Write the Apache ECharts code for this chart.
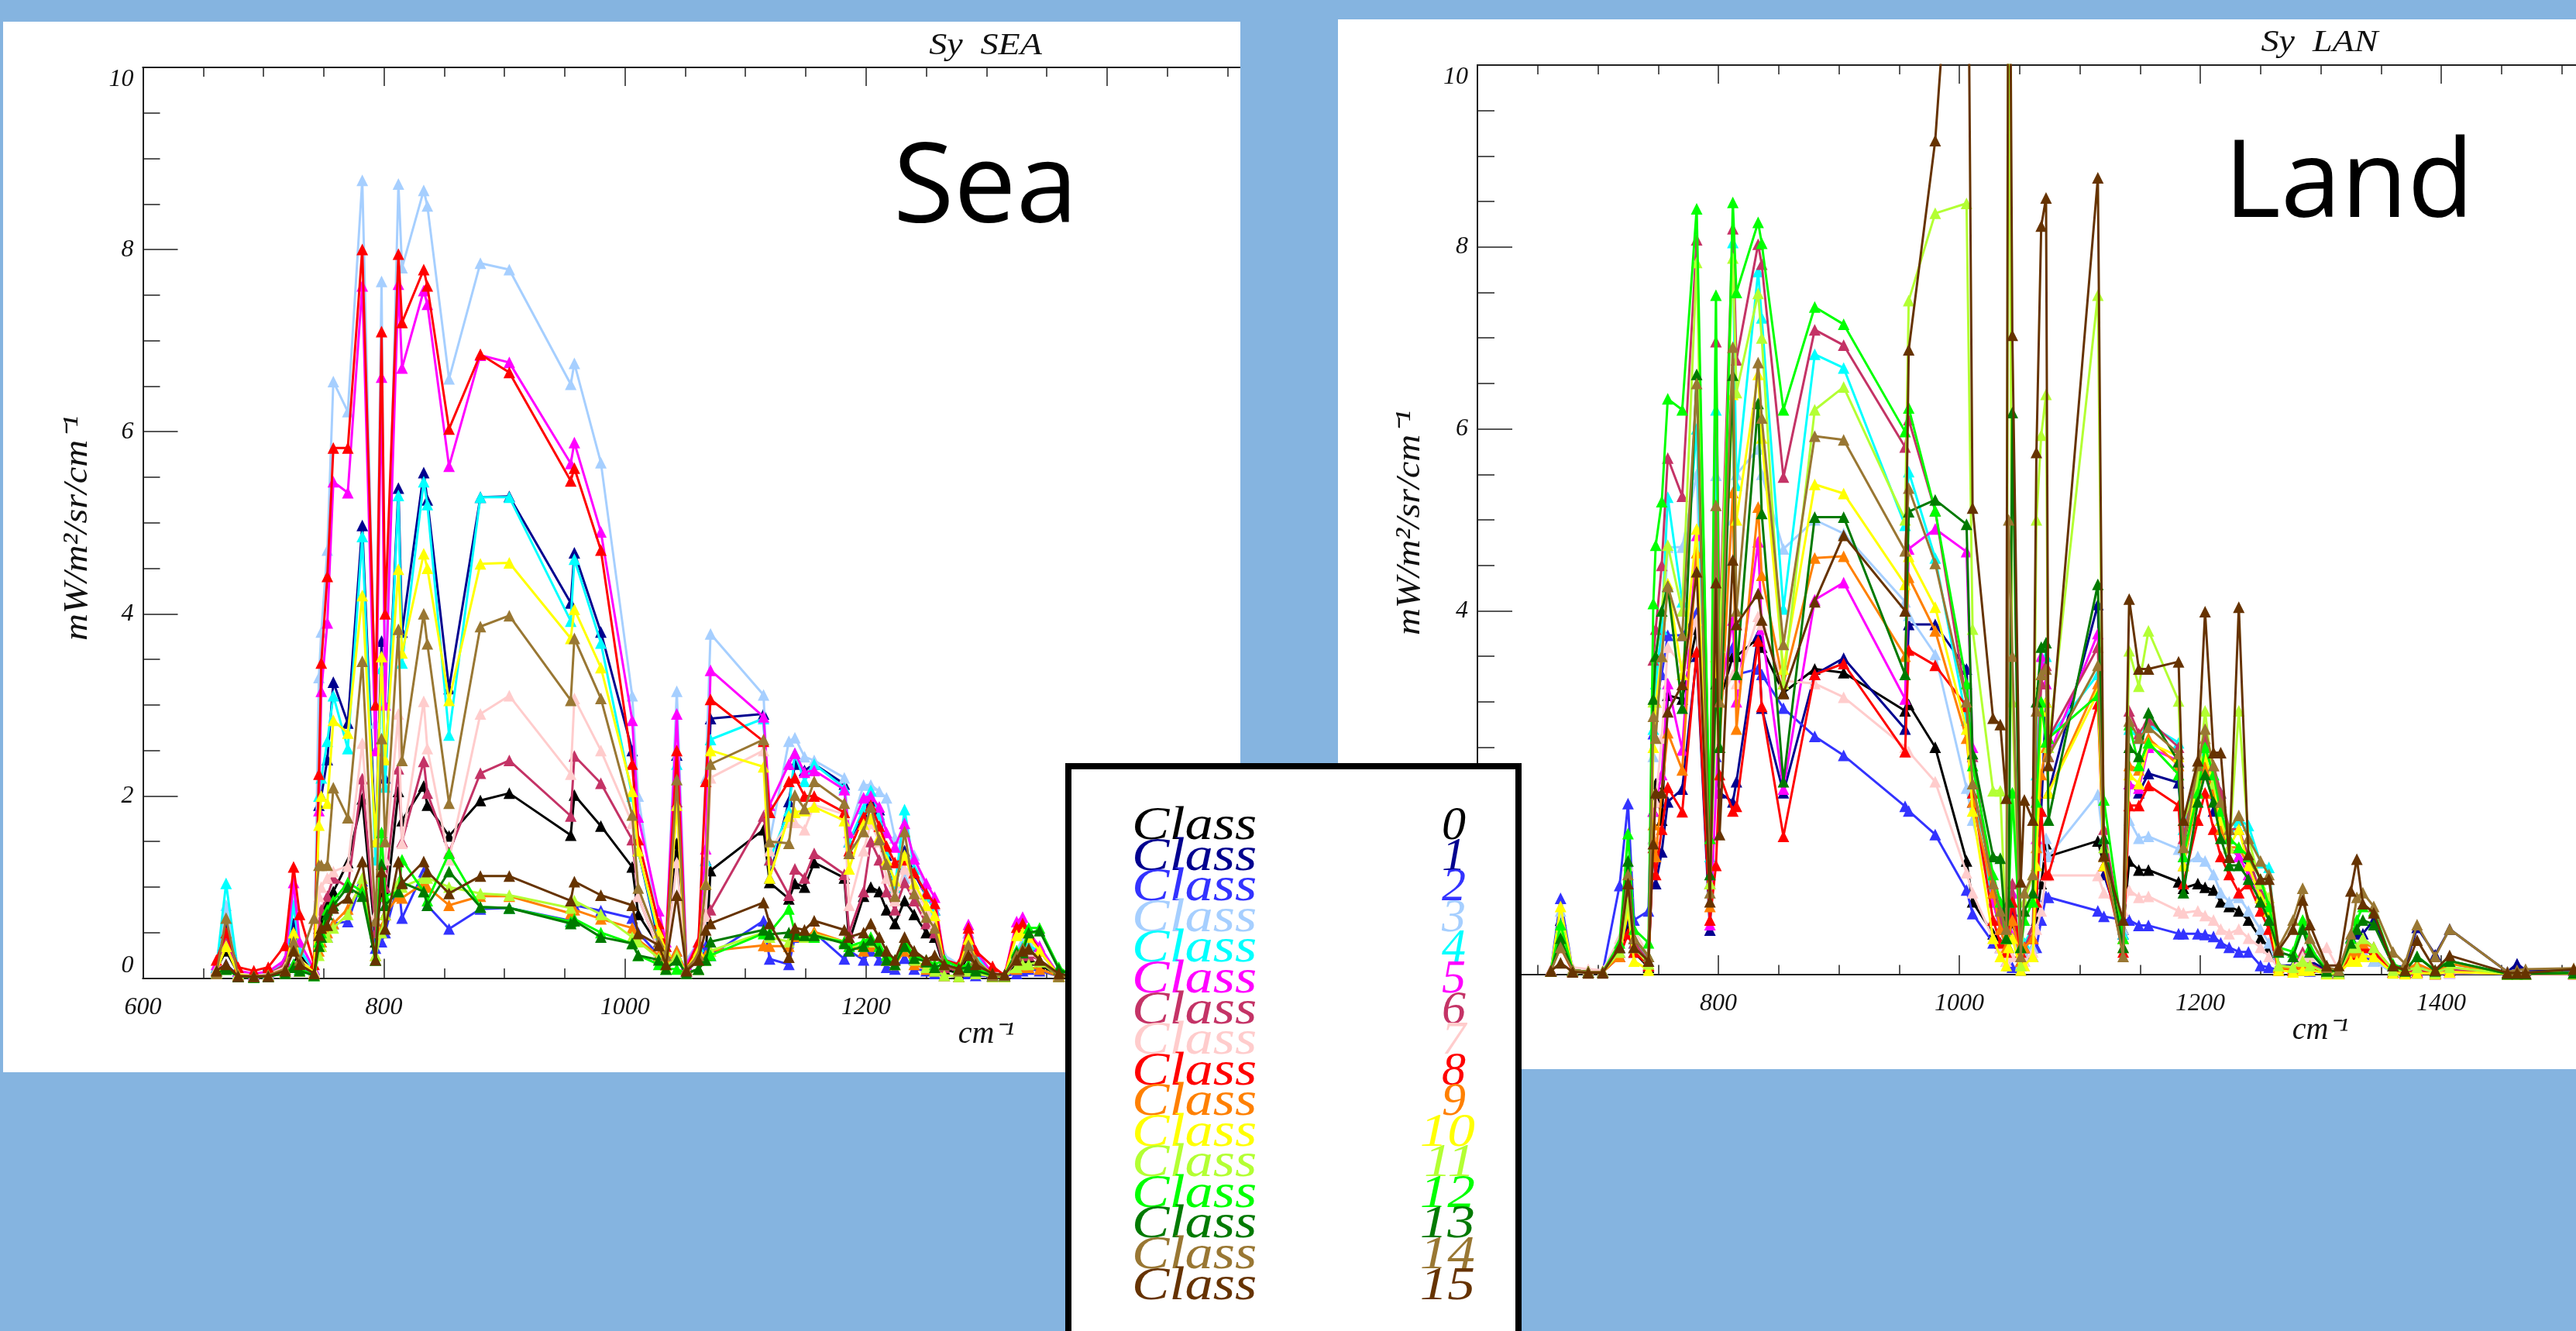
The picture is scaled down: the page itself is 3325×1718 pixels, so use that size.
<!DOCTYPE html>
<html><head><meta charset="utf-8">
<style>html,body{margin:0;padding:0;background:#85B4E0}#c{width:3325px;height:1718px}</style>
<script src="https://cdn.jsdelivr.net/npm/echarts@6/dist/echarts.min.js"></script>
</head><body><div id="c"></div>
<script>
const seaChannels=[661,669,679,692,704,718,725,730,742,746,
748,753,758,770,782,793,798,801,812,815,
833,836,854,880,904,955,958,980,1006,1011,
1028,1034,1043,1051,1061,1067,1071,1115,1120,1136,
1141,1149,1157,1182,1186,1198,1204,1211,1217,1224,
1232,1240,1250,1257,1265,1277,1285,1291,1305,1315,
1325,1330,1335,1344,1360,1370,1380,1395,1407,1455,
1463,1470,1510,1600];
const landChannels=[661,669,679,692,704,718,725,730,742,746,
748,753,758,770,782,793,798,801,812,815,
833,836,854,880,904,955,958,980,1006,1011,
1028,1034,1039,1041,1044,1051,1054,1061,1064,1068,1072,1074,1115,1120,1136,
1141,1149,1157,1182,1186,1198,1204,1211,1217,1224,
1232,1240,1250,1257,1265,1277,1285,1291,1305,1315,
1325,1330,1335,1344,1360,1370,1380,1395,1407,1455,
1463,1470,1510,1600];

const sea0=[.1,.3,.05,.03,.04,.1,.4,.25,.05,.55,
.65,.8,.95,1.27,1.97,.4,1.0,.7,2.05,1.73,
2.11,1.9,1.56,1.95,2.03,1.57,2.01,1.67,1.22,.7,
.35,.2,1.48,.08,.2,.25,1.18,1.63,1.05,.87,
1.04,1.0,1.27,1.1,.4,.9,1.0,.95,.75,.6,
.85,.7,.5,.45,.1,.05,.25,.12,.03,.03,
.15,.2,.2,.15,.03,.03,.03,.02,.02,.01,
.01,.01,.01,.01];
const sea1=[.12,.55,.08,.04,.05,.2,.6,.3,.1,1.9,
2.0,2.4,3.25,2.8,4.97,1.5,3.7,2.2,5.38,3.8,
5.55,5.25,3.18,5.28,5.29,4.12,4.67,3.8,2.5,1.4,
.4,.25,2.45,.1,.35,1.3,2.85,2.9,1.1,1.94,
2.35,2.28,2.35,2.13,1.5,1.8,1.95,1.85,1.35,1.0,
1.4,1.15,.9,.75,.2,.1,.5,.25,.05,.03,
.3,.35,.3,.3,.04,.03,.03,.02,.02,.01,
.01,.01,.01,.01];
const sea2=[.08,.15,.03,.02,.03,.08,.15,.1,.05,.35,
.4,.45,.6,.62,1.07,.33,.4,.5,1.05,.66,
1.17,.8,.54,.76,.77,.63,.8,.74,.66,.5,
.25,.15,.3,.05,.1,.35,.25,.63,.21,.15,
.45,.45,.5,.21,.3,.2,.3,.2,.12,.1,
.22,.1,.08,.05,.03,.02,.05,.03,.02,.02,
.05,.08,.1,.08,.02,.02,.02,.01,.01,.01,
.01,.01,.01,.01];
const sea3=[.1,.8,.06,.03,.05,.2,.85,.3,.1,3.3,
3.8,4.7,6.55,6.22,8.76,2.8,7.65,3,8.72,7.8,
8.65,8.48,6.58,7.85,7.78,6.52,6.75,5.66,3.1,2.0,
.5,.35,3.15,.2,.4,2.2,3.78,3.11,1.5,2.6,
2.64,2.43,2.39,2.2,1.6,2.12,2.12,2.05,1.98,1.54,
1.1,1.35,.95,.8,.25,.15,.5,.3,.05,.03,
.3,.4,.4,.35,.04,.03,.03,.02,.02,.01,
.01,.01,.01,.01];
const sea4=[.12,1.04,.06,.03,.05,.15,.8,.3,.1,2.0,
2.2,2.6,3.1,2.52,4.85,1.3,3.4,2.1,5.3,3.46,
5.45,5.2,2.67,5.28,5.28,3.92,4.6,3.68,2.0,1.4,
.45,.3,2.35,.15,.35,1.29,2.62,2.85,1.3,1.84,
2.47,2.16,2.35,2.09,1.5,1.86,2.06,1.8,1.4,1.0,
1.85,1.2,.9,.75,.2,.1,.45,.25,.05,.03,
.3,.35,.35,.3,.03,.03,.02,.02,.01,.01,
.01,.01,.01,.01];
const sea5=[.15,.45,.08,.05,.07,.2,1.05,.4,.1,1.84,
3.15,3.9,5.45,5.33,7.6,2.5,6.6,3,7.62,6.7,
7.55,7.4,5.62,6.84,6.76,5.65,5.88,4.9,2.83,1.77,
.74,.4,2.9,.15,.4,1.42,3.38,2.87,1.9,2.35,
2.47,2.26,2.28,2.07,1.6,1.98,2.0,1.88,1.6,1.44,
1.7,1.31,1.04,.89,.2,.15,.59,.3,.05,.03,
.62,.67,.5,.35,.03,.03,.02,.02,.01,.01,
.01,.01,.01,.01];
const sea6=[.1,.4,.04,.02,.04,.15,.5,.2,.08,.6,
.75,.9,1.1,1.0,2.19,.5,1.2,1.0,2.3,1.5,
2.38,2.03,1.38,2.25,2.39,1.78,2.44,2.14,1.52,.9,
.3,.2,1.94,.08,.2,.72,.75,1.78,1.3,.91,
1.2,1.1,1.37,1.14,.5,.95,1.5,1.3,.95,.75,
1.05,.85,.6,.5,.12,.08,.3,.15,.03,.03,
.2,.25,.25,.2,.03,.02,.02,.01,.01,.01,
.01,.01,.01,.01];
const sea7=[.1,.35,.05,.03,.04,.12,.4,.2,.08,.9,
1.0,1.1,1.17,1.23,2.58,.7,1.2,1.3,2.9,1.48,
3.04,2.52,1.3,2.9,3.1,2.24,3.07,2.5,1.7,.9,
.3,.2,1.27,.1,.25,.68,2.2,2.5,1.4,1.71,
1.71,1.63,1.9,1.8,.8,1.4,1.7,1.5,1.1,.85,
1.2,1.0,.75,.6,.15,.1,.35,.2,.04,.03,
.2,.3,.3,.2,.03,.02,.02,.01,.01,.01,
.01,.01,.01,.01];
const sea8=[.2,.5,.12,.08,.12,.36,1.22,.7,.15,2.24,
3.46,4.41,5.82,5.82,8.0,3.0,7.1,4,7.95,7.2,
7.78,7.6,6.03,6.85,6.65,5.46,5.6,4.7,2.35,1.52,
.6,.35,2.5,.1,.4,2.16,3.06,2.6,1.82,2.16,
2.2,2.0,2.0,1.82,1.4,1.77,1.9,1.67,1.45,1.27,
1.3,1.16,.93,.82,.2,.15,.55,.3,.13,.03,
.56,.6,.5,.3,.03,.03,.02,.02,.01,.01,
.01,.01,.01,.01];
const sea9=[.06,.12,.03,.02,.03,.07,.12,.08,.04,.3,
.4,.5,.6,.76,1.04,.25,.55,.7,.9,.88,
1.04,1.0,.8,.9,.9,.71,.75,.65,.55,.42,
.25,.15,.3,.05,.1,.25,.3,.36,.35,.35,
.46,.45,.51,.4,.35,.3,.35,.3,.2,.15,
.3,.15,.1,.08,.03,.02,.08,.05,.02,.02,
.1,.12,.12,.1,.02,.02,.02,.01,.01,.01,
.01,.01,.01,.01];
const sea10=[.08,.35,.04,.02,.03,.1,.5,.2,.06,1.68,
2.0,1.92,2.83,2.69,4.2,1.5,3.53,2.4,4.49,3.57,
4.66,4.5,3.05,4.55,4.56,3.73,4.05,3.41,2.05,1.4,
.5,.3,1.9,.1,.3,1.04,2.5,2.32,1.1,1.78,
1.82,1.84,1.88,1.73,1.2,1.69,1.75,1.55,1.3,1.07,
1.35,1.04,.8,.69,.15,.1,.43,.2,.04,.03,
.47,.5,.45,.3,.03,.02,.02,.01,.01,.01,
.01,.01,.01,.01];
const sea11=[.06,.1,.02,.02,.03,.06,.12,.08,.04,.25,
.35,.45,.55,.7,1.1,.25,.5,.7,1.05,1.0,
1.1,1.1,1.0,.93,.91,.77,.85,.7,.45,.4,
.22,.12,.25,.05,.1,.2,.3,.5,.45,.4,
.5,.45,.48,.4,.35,.35,.4,.3,.2,.15,
.35,.2,.12,.08,.03,.02,.08,.05,.02,.02,
.12,.15,.15,.18,.02,.02,.02,.01,.01,.01,
.01,.01,.01,.01];
const sea12=[.05,.1,.02,.01,.02,.05,.15,.1,.03,.4,
.5,.75,.85,1.05,.95,.2,1.6,.9,.95,1.3,
.95,.85,1.37,.78,.77,.62,.65,.5,.38,.25,
.15,.1,.1,.05,.1,.2,.25,.49,.5,.76,
.5,.48,.45,.4,.35,.4,.45,.35,.25,.2,
.4,.25,.2,.15,.2,.12,.15,.1,.04,.03,
.3,.3,.55,.55,.12,.03,.02,.02,.02,.01,
.01,.01,.01,.01];
const sea13=[.05,.1,.02,.01,.02,.05,.12,.08,.03,.35,
.45,.7,.8,1.0,.9,.2,1.25,.8,.95,1.05,
.95,.8,1.17,.78,.77,.6,.63,.45,.38,.25,
.2,.1,.2,.05,.1,.2,.4,.53,.48,.5,
.48,.47,.47,.38,.3,.35,.42,.3,.2,.15,
.35,.22,.18,.12,.15,.1,.12,.08,.03,.03,
.28,.28,.5,.52,.1,.03,.02,.02,.02,.01,
.01,.01,.01,.01];
const sea14=[.05,.66,.03,.02,.03,.1,.4,.2,.66,1.24,
1.24,1.24,2.09,1.76,3.48,.63,2.63,1.5,3.83,2.39,
4.0,3.67,1.92,3.86,3.98,3.05,3.73,3.07,1.79,.99,
.4,.25,2.18,.1,.25,1.03,2.35,2.62,1.5,1.48,
2.01,1.86,2.16,1.92,1.37,1.61,1.88,1.52,1.25,.9,
1.61,.93,.67,.55,.15,.08,.36,.2,.03,.03,
.25,.33,.33,.2,.02,.02,.02,.01,.01,.01,
.01,.01,.01,.01];
const sea15=[.08,.15,.02,.02,.02,.08,.3,.15,.05,.47,
.55,.58,.77,.88,1.28,.2,1.17,.54,1.28,1.04,
1.28,1.17,.93,1.12,1.12,.85,1.06,.91,.8,.49,
.36,.15,.91,.08,.2,.53,.6,.83,.6,.23,
.55,.53,.63,.53,.45,.5,.6,.45,.3,.2,
.45,.3,.2,.25,.15,.1,.25,.15,.05,.04,
.2,.3,.32,.2,.05,.02,.02,.02,.02,.01,
.01,.01,.01,.01];

const land0=[.05,.6,.05,.03,.03,.2,.5,.25,.08,1.8,
2.1,1.7,3.07,3.03,3.8,1.0,2.5,3.0,3.5,3.5,
3.7,3.6,3.1,3.36,3.32,2.9,2.97,2.5,1.25,.8,
.45,.35,.2,.3,.5,.1,.2,.3,.6,1.0,1.44,1.3,1.47,1.2,.5,
1.25,1.15,1.15,1.02,.95,1.0,.96,.93,.8,.75,
.7,.6,.4,.3,.05,.05,.1,.08,.02,.03,
.25,.25,.3,.2,.03,.03,.03,.02,.05,.01,
.01,.01,.02,.03];
const land1=[.05,.4,.05,.03,.03,.25,.6,.3,.1,1.5,
1.0,1.35,1.9,2.04,3.5,.49,2.2,2.0,1.9,2.12,
3.73,2.93,2.0,3.3,3.48,2.7,3.85,3.85,3.36,1.9,
.9,.75,.4,.5,.7,.12,.3,.4,1.2,1.8,3.0,2.0,4.07,1.1,.45,
2.1,2.0,2.21,2.11,1.4,2.0,2.4,1.8,1.7,1.4,
1.3,1.2,.9,.7,.1,.1,.2,.15,.05,.05,
.41,.45,.45,.6,.1,.08,.52,.22,.5,.03,
.12,.05,.05,.06];
const land2=[.05,.84,.05,.03,.03,.98,1.88,.6,.7,2.65,
3.0,3.3,3.73,3.73,3.98,1.0,2.4,3.3,3.6,3.3,
3.36,3.3,2.93,2.62,2.41,1.85,1.8,1.54,.93,.67,
.35,.3,.15,.1,.08,.05,.15,.2,.3,.6,.86,.85,.7,.64,.6,
.6,.54,.54,.45,.45,.45,.44,.42,.35,.3,
.25,.25,.1,.08,.05,.05,.05,.04,.02,.02,
.2,.2,.2,.15,.03,.02,.02,.01,.02,.01,
.01,.01,.01,.01];
const land3=[.05,.7,.05,.03,.03,.3,.9,.4,.15,2.4,
3.0,3.6,4.7,4.7,5.5,.9,5.49,3.5,5.0,5.5,
5.78,5.5,4.68,5.0,4.85,4.1,3.95,3.52,2.05,1.7,
.8,.5,.3,.4,.45,.12,.2,.3,.8,1.4,1.5,1.3,1.98,1.4,.5,
1.7,1.5,1.52,1.38,1.2,1.3,1.25,1.1,.9,.8,
.85,.7,.5,.35,.05,.05,.1,.08,.02,.02,
.2,.2,.25,.15,.02,.02,.02,.01,.03,.01,
.01,.01,.01,.01];
const land4=[.05,.5,.05,.03,.03,.3,.8,.35,.15,2.7,
3.2,3.8,5.25,4.1,6.0,1.3,6.21,3.5,8.05,5.38,
7.73,7.22,4.02,6.82,6.67,4.94,5.53,4.58,2.8,2.0,
.8,.5,.3,.6,.9,.15,.35,.5,2.2,3.3,3.5,2.6,3.3,1.5,.45,
2.7,2.6,2.75,2.55,1.6,2.3,2.5,2.2,2.0,1.5,
1.7,1.64,1.23,1.18,.1,.08,.15,.1,.03,.02,
.3,.3,.4,.3,.05,.05,.1,.02,.08,.01,
.01,.01,.02,.01];
const land5=[.05,.4,.05,.03,.03,.25,.7,.3,.1,1.8,
1.9,2.2,3.2,2.47,4.83,.55,2.0,3.0,3.9,3.0,
4.76,3.8,2.04,4.12,4.31,3.03,4.68,4.9,4.65,2.5,
.8,.5,.3,.5,.9,.15,.3,.4,1.5,3.5,3.2,2.4,3.75,1.2,.4,
2.1,2.05,2.5,2.35,1.3,2.0,2.3,2.0,1.6,1.4,
1.3,1.1,.8,.6,.08,.07,.12,.1,.03,.02,
.25,.25,.3,.25,.03,.03,.05,.02,.05,.01,
.01,.01,.01,.01];
const land6=[.05,.45,.05,.03,.03,.3,.9,.35,.15,3.46,
3.8,4.5,5.68,5.26,8.08,1.5,6.96,3.8,8.2,6.76,
8.03,7.81,5.47,7.09,6.92,5.8,6.1,5.1,3.0,2.4,
.9,.6,.4,.6,1.0,.15,.3,.5,2.0,3.2,3.4,2.6,3.6,1.6,.4,
2.9,2.65,2.8,2.5,1.5,2.3,2.6,2.3,2.0,1.6,
1.6,1.3,.9,.8,.1,.08,.25,.12,.03,.02,
.3,.3,.4,.3,.05,.04,.06,.02,.05,.01,
.01,.01,.02,.01];
const land7=[.05,.35,.08,.06,.05,.4,1.2,.5,.2,1.5,
1.9,2.6,3.6,3.4,3.9,1.0,2.6,3.0,3.3,3.2,
3.94,3.85,3.23,3.2,3.05,2.5,2.45,2.12,1.12,.9,
.4,.3,.15,.2,.2,.1,.15,.25,.5,.7,1.09,1.09,1.09,.9,.7,
.93,.85,.86,.7,.68,.7,.65,.6,.5,.45,
.5,.4,.3,.2,.08,.08,.2,.2,.3,.05,
.3,.3,.4,.2,.03,.02,.02,.01,.02,.01,
.01,.01,.01,.01];
const land8=[.05,.3,.04,.03,.03,.2,.45,.25,.1,1.4,
1.1,1.6,2.06,1.79,3.55,.6,1.2,2.2,1.8,1.85,
3.67,2.95,1.52,3.3,3.42,2.45,3.57,3.4,2.95,2.0,
.6,.35,.25,.4,.8,.25,.3,.4,.8,1.8,1.1,1.1,2.98,1.2,.25,
1.86,1.86,2.08,1.86,1.0,1.7,2.0,1.6,1.3,1.1,
.9,1.0,.7,.5,.05,.05,.1,.08,.02,.02,
.2,.2,.3,.25,.03,.02,.03,.01,.03,.01,
.01,.01,.01,.01];
const land9=[.04,.45,.04,.03,.03,.2,.7,.3,.12,1.65,
1.3,2.0,2.66,2.25,4.64,.75,3.5,2.5,5.3,2.7,
5.14,4.39,3.2,4.58,4.6,3.5,4.37,3.78,2.6,1.9,
.9,.5,.3,.4,.6,.15,.3,.4,1.4,2.2,2.5,2.0,3.2,1.3,.3,
2.3,2.25,2.6,2.3,1.2,2.0,2.3,2.0,1.6,1.4,
1.4,1.2,.85,.7,.08,.06,.12,.1,.02,.02,
.25,.25,.35,.3,.05,.05,.12,.03,.12,.01,
.01,.01,.02,.02];
const land10=[.04,.75,.05,.03,.03,.25,.7,.15,.05,2.5,
3.0,3.5,4.3,3.3,4.9,1.0,3.5,3.0,6.38,5.0,
6.6,5.9,3.36,5.39,5.29,4.29,4.6,4.04,2.7,1.8,
.4,.2,.1,.3,.4,.05,.1,.2,1.2,2.9,3.0,2.0,3.1,1.2,.4,
2.2,2.1,2.55,2.4,1.2,2.2,2.4,2.1,1.7,1.4,
1.6,1.2,.85,.7,.05,.03,.05,.05,.01,.01,
.15,.15,.2,.2,.02,.01,.02,.01,.03,.01,
.01,.01,.01,.01];
const land11=[.04,.5,.05,.03,.03,.25,.8,.3,.12,3.0,
3.5,4.0,4.72,4.0,7.83,1.0,3.0,3.6,7.88,6.4,
7.49,7.0,3.2,6.21,6.46,5.0,7.41,8.37,8.48,3.8,
2.02,2.02,.4,12,3.0,.1,.8,1.1,5.0,5.93,6.38,2.5,7.47,1.4,.4,
3.56,3.17,3.78,3.01,1.7,2.1,2.9,2.1,1.8,1.4,
2.9,1.5,1.0,.85,.1,.08,.15,.1,.02,.02,
.3,.3,.4,.3,.05,.04,.08,.02,.08,.01,
.01,.01,.02,.02];
const land12=[.04,.55,.05,.03,.03,.35,1.55,.5,.35,4.08,
4.72,5.2,6.33,6.21,8.42,1.5,7.47,2.5,8.49,7.5,
8.27,8.04,6.21,7.34,7.15,5.97,6.23,5.1,3.2,2.3,
1.1,.8,.4,.8,2.0,.3,.6,.8,1.9,3.0,2.56,2.6,3.07,1.92,.4,
2.75,2.3,2.55,2.2,1.3,2.0,2.5,2.2,1.8,1.5,
1.4,1.3,1.05,.75,.3,.25,.6,.3,.05,.05,
.4,.6,.75,.7,.12,.05,.2,.05,.15,.01,
.01,.01,.02,.03];
const land13=[.04,.4,.05,.03,.03,.3,1.25,.4,.2,3.03,
3.5,4.0,4.27,2.93,6.6,1.1,3.2,2.5,6.59,3.3,
6.28,5.07,2.12,5.03,5.03,3.3,5.09,5.22,4.95,2.43,
1.3,1.28,.4,.8,6.18,.3,.7,.9,3.0,3.6,3.65,1.7,4.29,1.5,.3,
2.5,2.4,2.88,2.34,.9,1.9,2.2,1.9,1.5,1.2,
1.2,1.05,.8,.6,.25,.2,.5,.25,.04,.04,
.35,.5,.6,.55,.1,.04,.2,.04,.15,.01,
.01,.01,.02,.03];
const land14=[.04,.3,.05,.03,.03,.3,1.1,.4,.2,2.84,
2.6,3.5,4.27,3.73,6.5,.9,5.16,3.0,6.9,4.0,
6.73,6.12,3.63,5.92,5.88,4.66,5.35,4.52,3.0,2.1,
1.0,.7,.5,5,3.5,.2,.9,1.1,2.9,3.3,3.36,2.4,3.4,1.3,.2,
2.79,2.6,2.72,2.43,1.4,2.3,2.7,2.3,1.9,1.6,
1.75,1.5,1.25,1.1,.3,.6,.95,.4,.08,.05,
.45,.85,.9,.75,.25,.12,.55,.2,.5,.03,
.05,.06,.07,.08];
const land15=[.04,.13,.03,.02,.02,.3,1.0,.3,.15,1.44,
2.0,2.0,2.89,3.19,4.43,.8,4.31,1.54,4.56,3.85,
4.19,3.9,3.09,4.1,4.83,4.0,6.87,9.17,14,5.13,
2.82,2.75,1.94,14,7.03,1.02,1.92,1.7,5.74,8.23,8.54,2.3,8.76,1.31,.6,
4.13,3.36,3.36,3.44,1.7,2.35,3.99,2.44,2.44,1.29,
4.04,1.32,1.05,1.05,.27,.5,.82,.55,.1,.1,
.92,1.27,.78,.68,.1,.05,.38,.05,.21,.02,
.02,.02,.06,.07];

const classLabels=['0','1','2','3','4','5','6','7','8','9','10','11','12','13','14','15'];
const classColors=['#000000','#00008F','#3333FF','#A6CFFF','#00FFFF','#FF00FF','#C43366','#FFCCCC','#FF0000','#FF8000','#FFFF00','#B3FF33','#00FF00','#007A00','#997733','#663300'];
const seaSeries=[sea0,sea1,sea2,sea3,sea4,sea5,sea6,sea7,sea8,sea9,sea10,sea11,sea12,sea13,sea14,sea15];
const landSeries=[land0,land1,land2,land3,land4,land5,land6,land7,land8,land9,land10,land11,land12,land13,land14,land15];
const majorTicks=[600,800,1000,1200,1400,1600];
const minorTicks=[650,700,750,850,900,950,1050,1100,1150,1250,1300,1350,1450,1500,1550];

const serif='"Liberation Serif",serif';
const axisCol='#222';
function xAxes(gridIndex,max){
  const maj=majorTicks.filter(v=>v<=max), min=minorTicks.filter(v=>v<=max);
  const base={type:'value',gridIndex,min:600,max,splitLine:{show:false},axisLabel:{show:false},
    axisLine:{show:true,onZero:false,lineStyle:{color:axisCol,width:2}}};
  const tick=(vals,len)=>({show:true,inside:true,length:len,customValues:vals,lineStyle:{color:axisCol,width:1.5}});
  return [
    {...base,position:'bottom',axisTick:tick(maj,25),
      axisLabel:{show:true,customValues:maj,formatter:v=>String(v),fontFamily:serif,fontStyle:'italic',fontSize:32,color:'#111',margin:22}},
    {...base,position:'bottom',axisTick:tick(min,12.5)},
    {...base,position:'top',axisTick:tick(maj,24)},
    {...base,position:'top',axisTick:tick(min,12)}
  ];
}
function yAxis(gridIndex){
  return {type:'value',gridIndex,min:0,max:10,interval:2,position:'left',splitLine:{show:false},
    axisLine:{show:true,onZero:false,lineStyle:{color:axisCol,width:2}},
    axisTick:{show:true,inside:true,length:45,lineStyle:{color:axisCol,width:1.5}},
    minorTick:{show:true,splitNumber:4,length:22,lineStyle:{color:axisCol,width:1.5}},
    axisLabel:{fontFamily:serif,fontStyle:'italic',fontSize:32,color:'#111',margin:12,verticalAlignMaxLabel:'top',verticalAlignMinLabel:'bottom'}};
}
function lines(list,channels,xi,yi,tag){
  return list.map((vals,i)=>({name:tag+' Class '+classLabels[i],type:'line',xAxisIndex:xi,yAxisIndex:yi,
    data:channels.map((c,k)=>[c,vals[k]]),symbol:'triangle',symbolSize:[15,15],
    lineStyle:{color:classColors[i],width:3},itemStyle:{color:classColors[i]},
    z:2+i/100,animation:false,silent:true}));
}
const txt=(text,x,y,size,extra)=>({type:'text',x,y,z:5,silent:true,
  style:{text,font:'italic '+size+'px '+serif,fill:'#111',align:'center',verticalAlign:'middle'},...extra});
const g=[
  {type:'rect',z:-2,silent:true,shape:{x:4,y:28,width:1597,height:1356},style:{fill:'#fff'}},
  {type:'rect',z:-2,silent:true,shape:{x:1727,y:25,width:1598,height:1355},style:{fill:'#fff'}},
  txt('Sy  SEA',1272,59,40,{scaleX:1.15}),
  txt('Sy  LAN',2994,55,40,{scaleX:1.15}),
  txt('mW/m²/sr/cm⁻¹',100,682,44,{rotation:Math.PI/2,scaleX:1.1}),
  txt('mW/m²/sr/cm⁻¹',1820,675,44,{rotation:Math.PI/2,scaleX:1.1}),
  txt('cm⁻¹',1273,1335,40),
  txt('cm⁻¹',2995,1330,40),
  {type:'text',x:1272,y:246,z:5,silent:true,style:{text:'Sea',font:'143px "Open Sans"',fill:'#000',align:'center',verticalAlign:'middle'}},
  {type:'text',x:3032,y:240,z:5,silent:true,style:{text:'Land',font:'140px "Open Sans"',fill:'#000',align:'center',verticalAlign:'middle'}},
  {type:'rect',z:100,silent:true,shape:{x:1379,y:989,width:581,height:800},style:{fill:'#fff',stroke:'#000',lineWidth:8}}
];
classLabels.forEach((n,i)=>{
  const y=1067+i*39.55;
  g.push({type:'text',x:1461,y,z:101,scaleX:1.17,silent:true,style:{text:'Class',font:'italic 62px '+serif,fill:classColors[i],align:'left',verticalAlign:'middle'}});
  const two=n.length>1;
  g.push({type:'text',x:two?1904:1892,y,z:101,scaleX:two?1.15:1,silent:true,style:{text:n,font:'italic 62px '+serif,fill:classColors[i],align:'right',verticalAlign:'middle'}});
});

const option={
  backgroundColor:'#85B4E0',animation:false,
  grid:[
    {left:184.5,top:87,width:1415.5,height:1175.5,outerBoundsMode:'none'},
    {left:1907,top:84,width:1555,height:1174,outerBoundsMode:'none'}
  ],
  xAxis:[...xAxes(0,1510),...xAxes(1,1600)],
  yAxis:[yAxis(0),yAxis(1)],
  series:[...lines(seaSeries,seaChannels,0,0,'Sea'),...lines(landSeries,landChannels,4,1,'Land')],
  graphic:{elements:g}
};
const chart=echarts.init(document.getElementById('c'),null,{renderer:'canvas'});
chart.setOption(option);
</script></body></html>
